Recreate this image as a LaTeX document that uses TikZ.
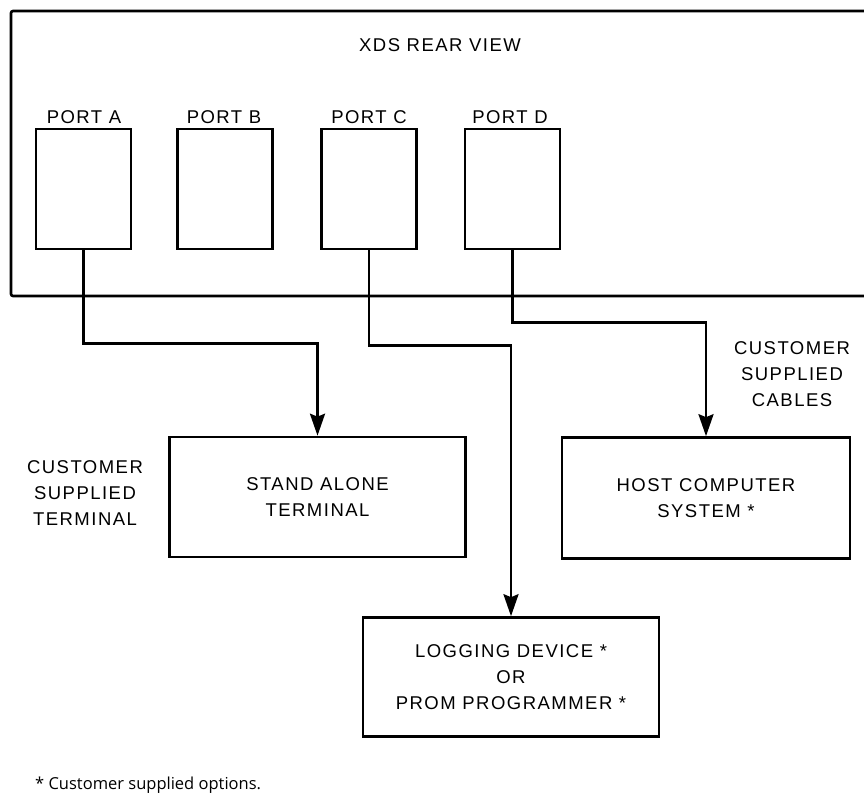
\documentclass[tikz,border=0pt]{standalone}
\usepackage{fontspec}
\setmainfont{Liberation Sans}[LetterSpace=8]
\newfontfamily\notefont{Open Sans}
\usetikzlibrary{arrows.meta}
\begin{document}
\begin{tikzpicture}[x=1pt,y=-1pt,
  lw/.style={line width=2.6pt},
  portbox/.style={lw,draw,minimum width=95pt,minimum height=120pt,inner sep=0pt},
  unitbox/.style={lw,draw,inner sep=0pt,align=center,font=\fontsize{18.5}{26}\selectfont},
  lbl/.style={inner sep=0pt,align=center,font=\fontsize{18.5}{26}\selectfont},
  arr/.style={lw,-{Stealth[length=22pt,width=15pt,inset=3pt]}}]
\useasboundingbox (0,0) rectangle (864,798);
% frame (open at right)
\draw[lw,rounded corners=2pt] (864,11) -- (11,11) -- (11,296) -- (864,296);
\node[lbl] (title) at (440,45) {XDS REAR VIEW};
% ports
\node[portbox] (pa) at (83.5,189) {};
\node[portbox] (pb) at (225,189) {};
\node[portbox] (pc) at (369,189) {};
\node[portbox] (pd) at (512.5,189) {};
\node[lbl] (la) at (84,117) {PORT A};
\node[lbl] (lb) at (224,117) {PORT B};
\node[lbl] (lc) at (369,117) {PORT C};
\node[lbl] (ld) at (510,117) {PORT D};
% units
\node[unitbox,minimum width=296pt,minimum height=120pt] (term) at (317.5,497) {STAND ALONE\\TERMINAL};
\node[unitbox,minimum width=288pt,minimum height=121pt] (host) at (706,498) {HOST COMPUTER\\SYSTEM *};
\node[unitbox,minimum width=296pt,minimum height=119pt] (log) at (511,677) {LOGGING DEVICE *\\OR\\PROM PROGRAMMER *};
% side labels
\node[lbl] (cst) at (85,493) {CUSTOMER\\SUPPLIED\\TERMINAL};
\node[lbl] (csc) at (792,374) {CUSTOMER\\SUPPLIED\\CABLES};
% connectors
\draw[arr] (pa.south) -- ++(0,93) -| (term.north);
\draw[arr] (pc.south) -- ++(0,95) -| (log.north);
\draw[arr] (pd.south) -- ++(0,72) -| (host.north);
% footnote
\node[anchor=west,inner sep=0pt,font=\notefont\fontsize{16.5}{18}\selectfont] (note) at (35,785) {* Customer supplied options.};
\end{tikzpicture}
\end{document}
